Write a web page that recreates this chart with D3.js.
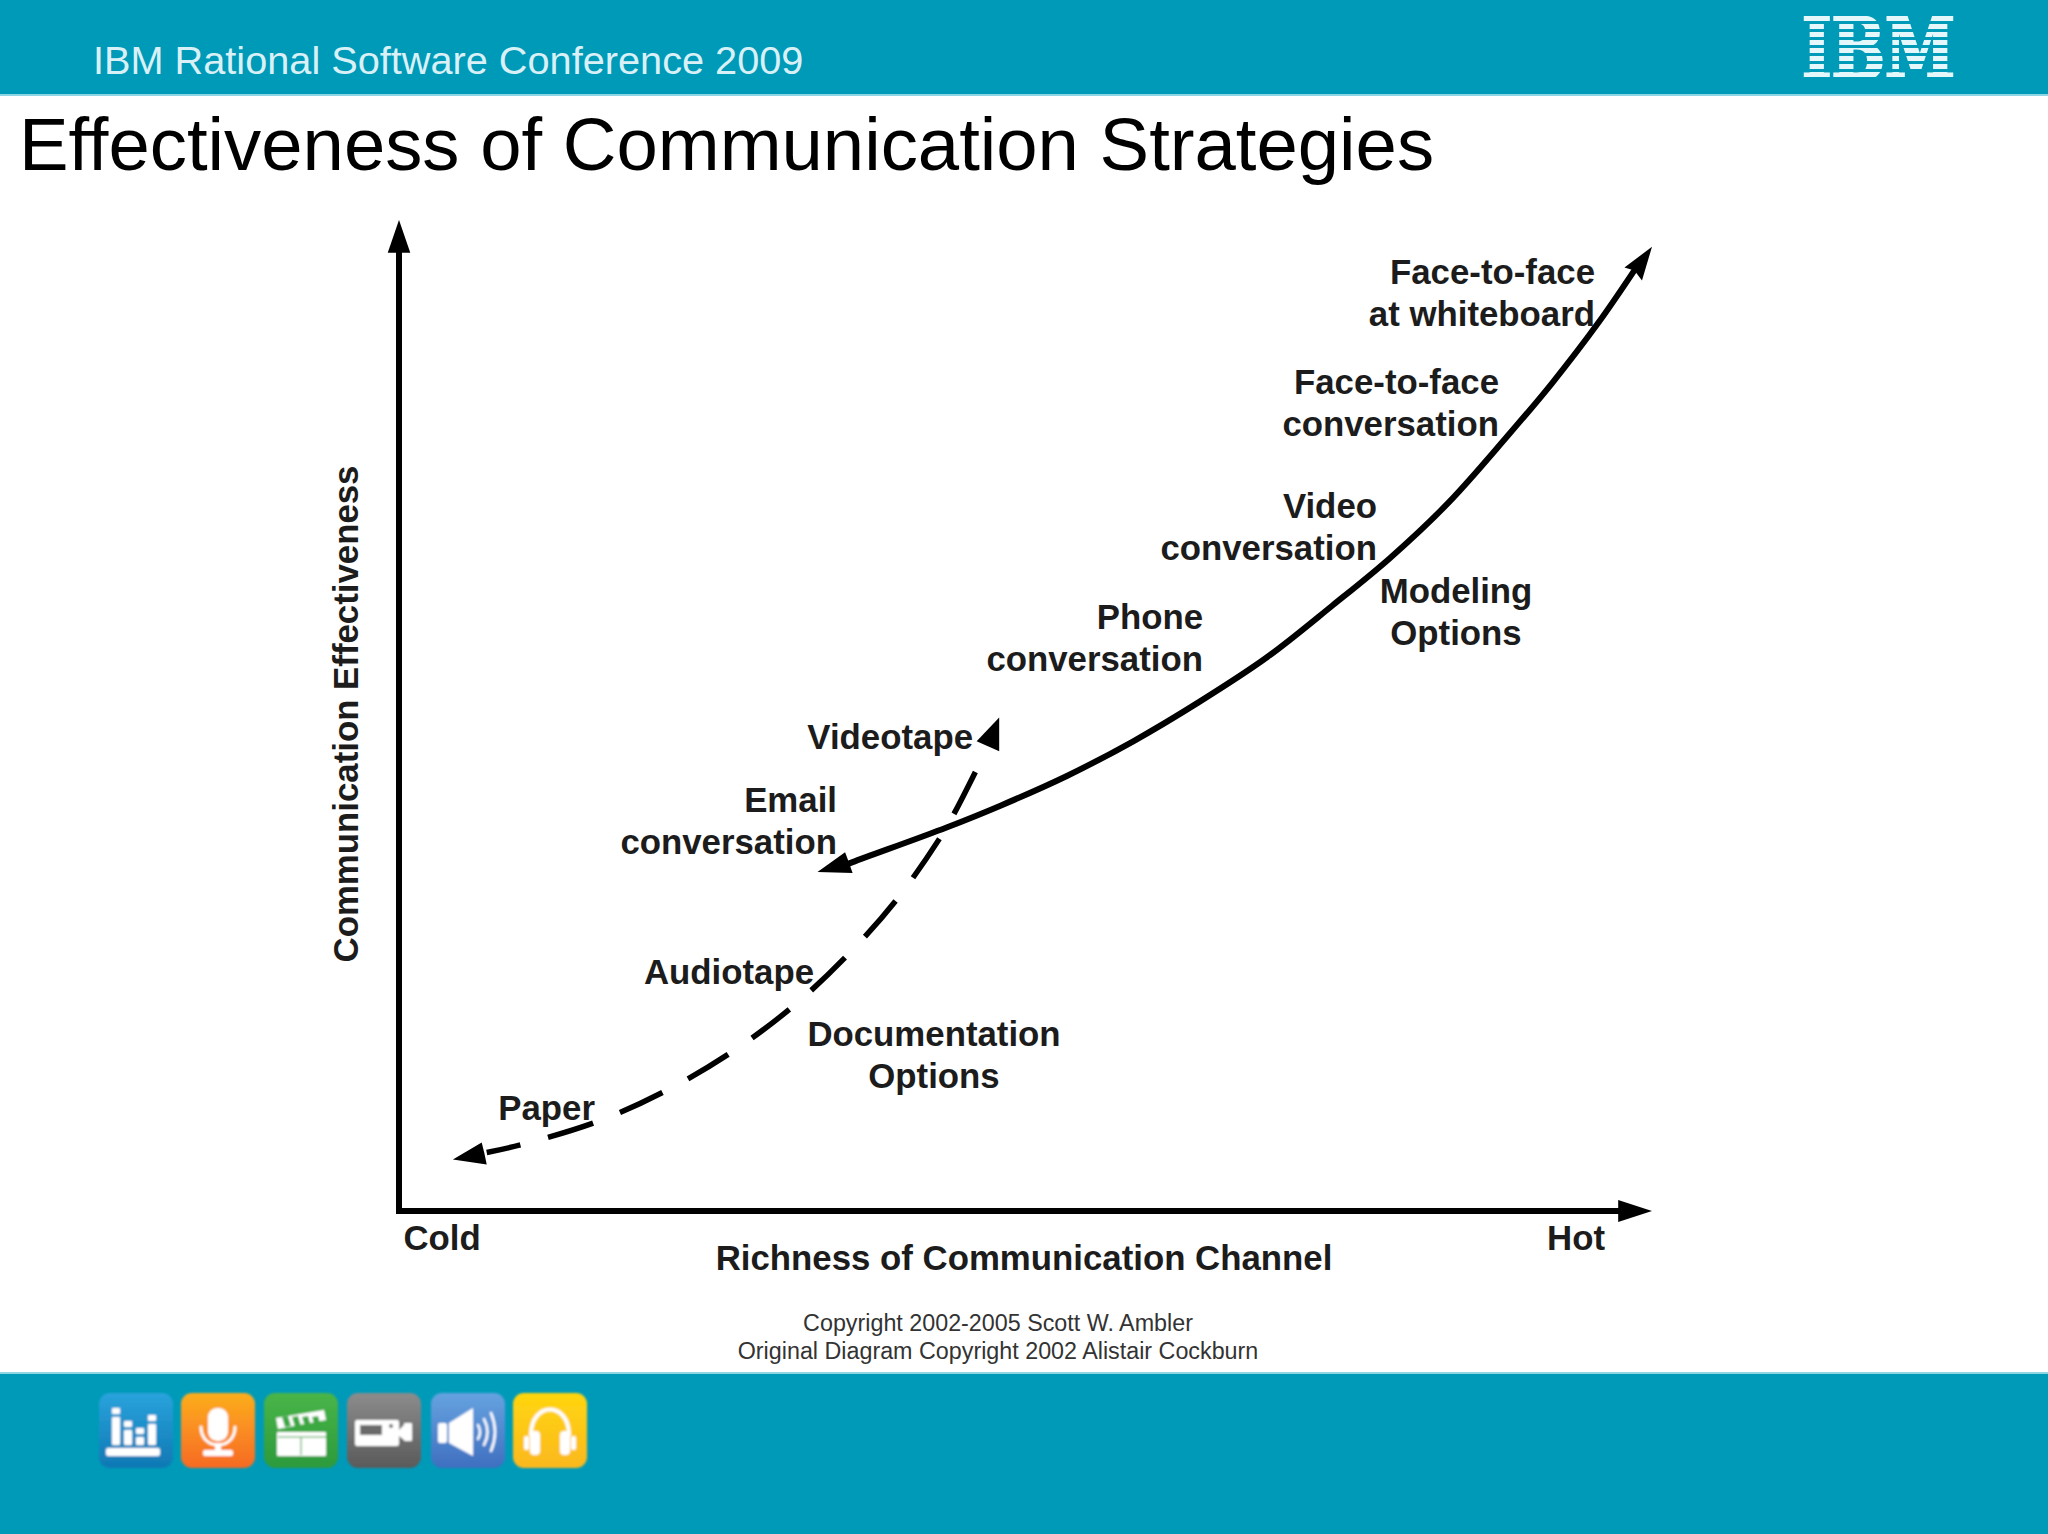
<!DOCTYPE html>
<html>
<head>
<meta charset="utf-8">
<script src="https://cdn.jsdelivr.net/npm/d3@7"></script>
<style>
  html, body { margin: 0; padding: 0; background: #fff; }
  svg { display: block; }
  text { font-family: "Liberation Sans", Arial, sans-serif; }
</style>
</head>
<body>
<div id="chart"></div>
<script>
// curve readings, in percent of each axis
const richChannel = [35.0, 36.2, 43.7, 48.0, 53.3, 58.6, 63.9, 69.3, 74.5, 79.1, 83.7, 88.4, 92.0, 95.7, 98.9];
const richEffect = [34.6, 35.2, 38.7, 40.9, 43.9, 47.4, 51.4, 55.9, 61.1, 65.9, 71.4, 78.1, 83.5, 89.6, 95.5];
const docChannel = [46.0, 44.3, 43.1, 39.7, 35.7, 31.3, 26.5, 21.4, 16.0, 10.1, 7.0];
const docEffect = [44.3, 40.1, 37.5, 31.4, 25.7, 20.5, 16.0, 12.2, 9.1, 6.8, 5.9];

// arrow heads [channel, effectiveness]
const headTop = [[100, 97.3], [97.8, 95.2], [98.6, 94.9], [99.2, 93.9]];
const headEmail = [[33.4, 34.2], [35.6, 36.2], [35.9, 35.2], [36.2, 34.1]];
const headVideotape = [[47.9, 49.8], [46.1, 47.4], [47.9, 46.4]];
const headPaper = [[4.3, 5.2], [6.6, 6.9], [6.8, 5.9], [7.0, 4.7]];
const headYAxis = [[0, 100], [-0.9, 96.7], [0.9, 96.7]];
const headXAxis = [[100, 0], [97.3, 1.1], [97.3, -1.1]];

const endTicks = [3.4, 93.9];
const endNames = ["Cold", "Hot"];

const labels = [
  ["Face-to-face", "at whiteboard"],
  ["Face-to-face", "conversation"],
  ["Video", "conversation"],
  ["Phone", "conversation"],
  ["Modeling", "Options"],
  ["Videotape"],
  ["Email", "conversation"],
  ["Audiotape"],
  ["Documentation", "Options"],
  ["Paper"]
];
const labelPlace = [
  [1595, 284, "end"], [1499, 394, "end"], [1377, 518, "end"], [1203, 629, "end"],
  [1456, 603, "middle"], [973, 749, "end"], [837, 812, "end"], [814, 984, "end"],
  [934, 1046, "middle"], [595, 1120, "end"]
];

const conferenceName = "IBM Rational Software Conference 2009";
const slideTitle = "Effectiveness of Communication Strategies";
const xName = "Richness of Communication Channel";
const yName = "Communication Effectiveness";
const copyright = ["Copyright 2002-2005 Scott W. Ambler", "Original Diagram Copyright 2002 Alistair Cockburn"];

const teal = "#009ab9";
const edge = "#8fd6e4";
const ink = "#000";
const labelInk = "#1c1c1c";
const labelSize = 34.8;

const svg = d3.select("#chart").append("svg").attr("width", 2048).attr("height", 1534);

// slide frame
svg.append("rect").attr("width", 2048).attr("height", 94).attr("fill", teal);
svg.append("rect").attr("y", 94).attr("width", 2048).attr("height", 2).attr("fill", edge);
svg.append("rect").attr("y", 1373).attr("width", 2048).attr("height", 161).attr("fill", teal);
svg.append("rect").attr("y", 1372).attr("width", 2048).attr("height", 2).attr("fill", edge);

svg.append("text").attr("x", 93).attr("y", 74)
  .attr("font-size", 39.7).attr("fill", "#d9f1f6").text(conferenceName);
svg.append("text").attr("x", 19).attr("y", 170)
  .attr("font-size", 74.3).attr("fill", ink).text(slideTitle);

// IBM logo, stripes cut out of real text
const defs = svg.append("defs");
const stripes = defs.append("mask").attr("id", "ibmStripes").attr("maskUnits", "userSpaceOnUse")
  .attr("x", 1790).attr("y", 0).attr("width", 180).attr("height", 94);
d3.range(8).forEach((i) => {
  stripes.append("rect").attr("x", 1790).attr("y", 16 + i * 8).attr("width", 180).attr("height", 5).attr("fill", "#fff");
});
svg.append("text").attr("x", 1802).attr("y", 79)
  .attr("font-size", 84).attr("font-weight", "bold")
  .attr("textLength", 153).attr("lengthAdjust", "spacingAndGlyphs")
  .style("font-family", "'DejaVu Serif', serif")
  .attr("fill", "#e4f7fb").attr("stroke", "#e4f7fb").attr("stroke-width", 3)
  .attr("mask", "url(#ibmStripes)").text("IBM");

// diagram
const x = d3.scaleLinear().domain([0, 100]).range([399, 1652]);
const y = d3.scaleLinear().domain([0, 100]).range([1211, 220]);

const curve = d3.line().x((d) => x(d[0])).y((d) => y(d[1])).curve(d3.curveCatmullRom.alpha(0.5));
const straight = d3.line().x((d) => x(d[0])).y((d) => y(d[1]));

const xAxis = svg.append("g").attr("transform", `translate(0,${y(0)})`)
  .call(d3.axisBottom(x).tickValues(endTicks).tickSize(0).tickPadding(0)
    .tickFormat((d, i) => endNames[i]));
xAxis.select(".domain").remove();
xAxis.selectAll("text").attr("y", 39).attr("dy", 0)
  .attr("font-size", labelSize).attr("font-weight", "bold")
  .style("font-family", "'Liberation Sans', sans-serif").attr("fill", labelInk);

const yAxis = svg.append("g").attr("transform", `translate(${x(0)},0)`)
  .call(d3.axisLeft(y).tickValues([]).tickSize(0));
yAxis.select(".domain").remove();

svg.append("path").datum([[0, 98], [0, 0], [98, 0]])
  .attr("d", straight).attr("fill", "none")
  .attr("stroke", ink).attr("stroke-width", 6).attr("stroke-linecap", "butt")
  .attr("stroke-linejoin", "miter");

svg.append("path").datum(d3.zip(richChannel, richEffect))
  .attr("d", curve).attr("fill", "none")
  .attr("stroke", ink).attr("stroke-width", 6);

svg.append("path").datum(d3.zip(docChannel, docEffect))
  .attr("d", curve).attr("fill", "none")
  .attr("stroke", ink).attr("stroke-width", 5.5)
  .attr("stroke-dasharray", "47 29");

svg.selectAll("polygon.head")
  .data([headTop, headEmail, headVideotape, headPaper, headYAxis, headXAxis])
  .enter().append("polygon").attr("class", "head")
  .attr("points", (d) => d.map((p) => [x(p[0]), y(p[1])].join(",")).join(" "))
  .attr("fill", ink);

// curve labels
const lineGap = 42;
labels.forEach((lines, i) => {
  const place = labelPlace[i];
  svg.append("g").selectAll("text").data(lines).enter().append("text")
    .attr("x", place[0])
    .attr("y", (d, j) => place[1] + j * lineGap)
    .attr("text-anchor", place[2])
    .attr("font-size", labelSize).attr("font-weight", "bold").attr("fill", labelInk)
    .text((d) => d);
});

svg.append("text").attr("x", 1024).attr("y", 1270).attr("text-anchor", "middle")
  .attr("font-size", labelSize).attr("font-weight", "bold").attr("fill", labelInk).text(xName);
svg.append("text").attr("transform", "translate(358,714) rotate(-90)").attr("text-anchor", "middle")
  .attr("font-size", labelSize).attr("font-weight", "bold").attr("fill", labelInk).text(yName);

svg.append("g").selectAll("text").data(copyright).enter().append("text")
  .attr("x", 998).attr("y", (d, i) => 1331 + i * 28).attr("text-anchor", "middle")
  .attr("font-size", 23.3).attr("fill", "#333").text((d) => d);

// media icons in the footer
const iconLeft = [99, 181, 264, 347, 431, 513];
const iconTop = ["#2aa3dc", "#fcae1e", "#49b548", "#8c8c8c", "#66a3e0", "#ffd60f"];
const iconBottom = ["#0f78b4", "#f76a24", "#2c9a3c", "#5a5a5a", "#3f6fc0", "#fbb81e"];

const blur = defs.append("filter").attr("id", "soft");
blur.append("feGaussianBlur").attr("stdDeviation", 0.8);

iconTop.forEach((c, i) => {
  const grad = defs.append("linearGradient").attr("id", "icon" + i)
    .attr("x1", 0).attr("y1", 0).attr("x2", 0).attr("y2", 1);
  grad.append("stop").attr("offset", "0%").attr("stop-color", c);
  grad.append("stop").attr("offset", "100%").attr("stop-color", iconBottom[i]);
});

const icons = svg.selectAll("g.icon").data(iconLeft).enter().append("g")
  .attr("class", "icon")
  .attr("transform", (d) => `translate(${d},1393)`)
  .attr("filter", "url(#soft)");
icons.append("rect").attr("width", 74).attr("height", 75).attr("rx", 11)
  .attr("fill", (d, i) => `url(#icon${i})`);

const white = "#fff";
const rect = (g, rx, ry, w, h, r) => g.append("rect").attr("x", rx).attr("y", ry)
  .attr("width", w).attr("height", h).attr("rx", r || 0).attr("fill", white);
const stroke = (g, d, w) => g.append("path").attr("d", d).attr("fill", "none")
  .attr("stroke", white).attr("stroke-width", w).attr("stroke-linecap", "round");

// equalizer
const eq = icons.filter((d, i) => i == 0);
[[13, 15], [25, 28], [37, 35], [49, 22]].forEach((b) => {
  rect(eq, b[0], b[1] + 9, 8, 52 - b[1] - 9, 1);
  rect(eq, b[0], b[1], 8, 6, 1);
});
rect(eq, 7, 55, 54, 8, 2);

// microphone
const mic = icons.filter((d, i) => i == 1);
rect(mic, 27, 15, 20, 33, 9);
stroke(mic, "M20 34 C20 58 54 58 54 34", 3);
rect(mic, 34, 50, 6, 8);
rect(mic, 22, 57, 30, 6, 2);

// clapper board
const clap = icons.filter((d, i) => i == 2);
rect(clap, 13, 39, 49, 24, 1);
clap.append("path").attr("d", "M12 25 L60 17 L62 27 L14 36 Z").attr("fill", white);
[18, 28, 38, 48].forEach((s) => {
  clap.append("path").attr("d", `M${s} 24 l6 -1 l3 10 l-6 1 Z`).attr("fill", "#3aa843");
});
clap.append("path").attr("d", "M14 44 H62 M37 44 V62").attr("stroke", "#7fbf85").attr("stroke-width", 1.5);

// video camera
const cam = icons.filter((d, i) => i == 3);
rect(cam, 8, 27, 44, 26, 2);
cam.append("rect").attr("x", 13).attr("y", 32).attr("width", 22).attr("height", 10).attr("fill", "#6a6a6a");
cam.append("circle").attr("cx", 44).attr("cy", 33).attr("r", 2).attr("fill", "#6a6a6a");
cam.append("path").attr("d", "M52 37 L57 32 V47 L52 43 Z").attr("fill", white);
rect(cam, 57, 30, 8, 18, 1);

// speaker
const spk = icons.filter((d, i) => i == 4);
rect(spk, 7, 30, 9, 20, 2);
spk.append("path").attr("d", "M18 30 L42 15 V63 L18 50 Z").attr("fill", white);
stroke(spk, "M47 32 Q51 39 47 46", 2.5);
stroke(spk, "M53 26 Q60 39 53 52", 2.5);
stroke(spk, "M60 20 Q68 39 60 58", 2.5);

// headphones
const phones = icons.filter((d, i) => i == 5);
stroke(phones, "M18 42 C18 8 56 8 56 42", 4);
rect(phones, 17, 38, 10, 24, 4);
rect(phones, 47, 38, 10, 24, 4);
rect(phones, 11, 43, 5, 14, 2);
rect(phones, 58, 43, 5, 14, 2);
</script>
</body>
</html>
